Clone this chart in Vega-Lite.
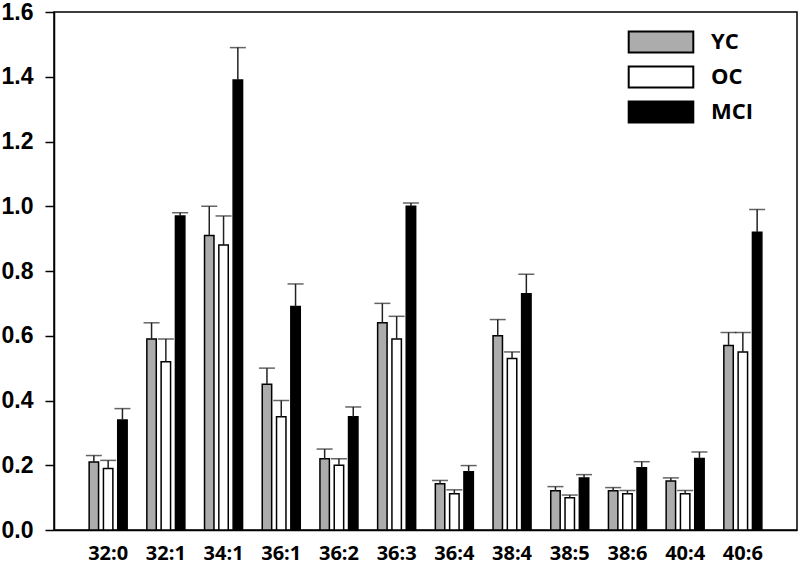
{
  "$schema": "https://vega.github.io/schema/vega-lite/v6.json",
  "width": 743,
  "height": 518,
  "autosize": {"type": "none"},
  "padding": {"left": 54, "top": 12, "right": 3, "bottom": 36},
  "background": "white",
  "config": {
    "view": {"stroke": "black", "strokeWidth": 1.5},
    "axis": {"grid": false, "domainColor": "black", "domainWidth": 1.5, "tickColor": "black", "tickWidth": 1.5, "title": null}
  },
  "data": {
    "values": [
      {"lipid": "32:0", "group": "YC", "mean": 0.21, "upper": 0.23},
      {"lipid": "32:0", "group": "OC", "mean": 0.19, "upper": 0.215},
      {"lipid": "32:0", "group": "MCI", "mean": 0.34, "upper": 0.375},
      {"lipid": "32:1", "group": "YC", "mean": 0.59, "upper": 0.64},
      {"lipid": "32:1", "group": "OC", "mean": 0.52, "upper": 0.59},
      {"lipid": "32:1", "group": "MCI", "mean": 0.97, "upper": 0.98},
      {"lipid": "34:1", "group": "YC", "mean": 0.91, "upper": 1.0},
      {"lipid": "34:1", "group": "OC", "mean": 0.88, "upper": 0.97},
      {"lipid": "34:1", "group": "MCI", "mean": 1.39, "upper": 1.49},
      {"lipid": "36:1", "group": "YC", "mean": 0.45, "upper": 0.5},
      {"lipid": "36:1", "group": "OC", "mean": 0.35, "upper": 0.4},
      {"lipid": "36:1", "group": "MCI", "mean": 0.69, "upper": 0.76},
      {"lipid": "36:2", "group": "YC", "mean": 0.22, "upper": 0.25},
      {"lipid": "36:2", "group": "OC", "mean": 0.2, "upper": 0.22},
      {"lipid": "36:2", "group": "MCI", "mean": 0.35, "upper": 0.38},
      {"lipid": "36:3", "group": "YC", "mean": 0.64, "upper": 0.7},
      {"lipid": "36:3", "group": "OC", "mean": 0.59, "upper": 0.66},
      {"lipid": "36:3", "group": "MCI", "mean": 1.0, "upper": 1.01},
      {"lipid": "36:4", "group": "YC", "mean": 0.143, "upper": 0.153},
      {"lipid": "36:4", "group": "OC", "mean": 0.112, "upper": 0.124},
      {"lipid": "36:4", "group": "MCI", "mean": 0.18, "upper": 0.199},
      {"lipid": "38:4", "group": "YC", "mean": 0.6, "upper": 0.65},
      {"lipid": "38:4", "group": "OC", "mean": 0.53, "upper": 0.55},
      {"lipid": "38:4", "group": "MCI", "mean": 0.73, "upper": 0.79},
      {"lipid": "38:5", "group": "YC", "mean": 0.121, "upper": 0.134},
      {"lipid": "38:5", "group": "OC", "mean": 0.1, "upper": 0.108},
      {"lipid": "38:5", "group": "MCI", "mean": 0.161, "upper": 0.171},
      {"lipid": "38:6", "group": "YC", "mean": 0.121, "upper": 0.131},
      {"lipid": "38:6", "group": "OC", "mean": 0.112, "upper": 0.122},
      {"lipid": "38:6", "group": "MCI", "mean": 0.192, "upper": 0.211},
      {"lipid": "40:4", "group": "YC", "mean": 0.151, "upper": 0.161},
      {"lipid": "40:4", "group": "OC", "mean": 0.112, "upper": 0.122},
      {"lipid": "40:4", "group": "MCI", "mean": 0.221, "upper": 0.241},
      {"lipid": "40:6", "group": "YC", "mean": 0.57, "upper": 0.61},
      {"lipid": "40:6", "group": "OC", "mean": 0.55, "upper": 0.61},
      {"lipid": "40:6", "group": "MCI", "mean": 0.92, "upper": 0.99}
    ]
  },
  "encoding": {
    "x": {
      "field": "lipid", "type": "nominal", "sort": null,
      "scale": {"paddingInner": 0.341, "paddingOuter": 0.609},
      "axis": {"labelAngle": 0, "ticks": false, "tickSize": 0, "labelPadding": 13, "labelFont": "Open Sans", "labelFontWeight": "bold", "labelFontSize": 20, "labelColor": "black", "domain": true}
    },
    "xOffset": {
      "field": "group", "type": "nominal", "sort": ["YC", "OC", "MCI"],
      "scale": {"paddingInner": 0.34, "paddingOuter": 0}
    }
  },
  "layer": [
    {
      "mark": {"type": "bar", "stroke": "black", "strokeWidth": 1.5},
      "encoding": {
        "y": {
          "field": "mean", "type": "quantitative",
          "scale": {"domain": [0, 1.6], "nice": false},
          "axis": {"values": [0, 0.2, 0.4, 0.6, 0.8, 1.0, 1.2, 1.4, 1.6], "format": ".1f", "tickSize": 9, "labelPadding": 12, "labelFont": "Liberation Sans", "labelFontWeight": "bold", "labelFontSize": 23, "labelColor": "black"}
        },
        "fill": {
          "field": "group", "type": "nominal",
          "scale": {"domain": ["YC", "OC", "MCI"], "range": ["#acacac", "#ffffff", "#000000"]},
          "legend": {
            "title": null, "orient": "none", "legendX": 587, "legendY": 10, "padding": 0,
            "symbolType": "M-1.7,-0.55H1.7V0.55H-1.7Z", "symbolSize": 1444,
            "symbolStrokeColor": "black", "symbolStrokeWidth": 2,
            "labelFont": "Open Sans", "labelFontWeight": "bold", "labelFontSize": 22, "labelColor": "black",
            "labelOffset": 30, "rowPadding": 0
          }
        }
      }
    },
    {
      "mark": {"type": "rule", "color": "#222222", "strokeWidth": 1.5},
      "encoding": {
        "y": {"field": "mean", "type": "quantitative"},
        "y2": {"field": "upper"}
      }
    },
    {
      "mark": {"type": "tick", "color": "#222222", "size": 16, "thickness": 1.5},
      "encoding": {
        "y": {"field": "upper", "type": "quantitative"}
      }
    }
  ]
}
